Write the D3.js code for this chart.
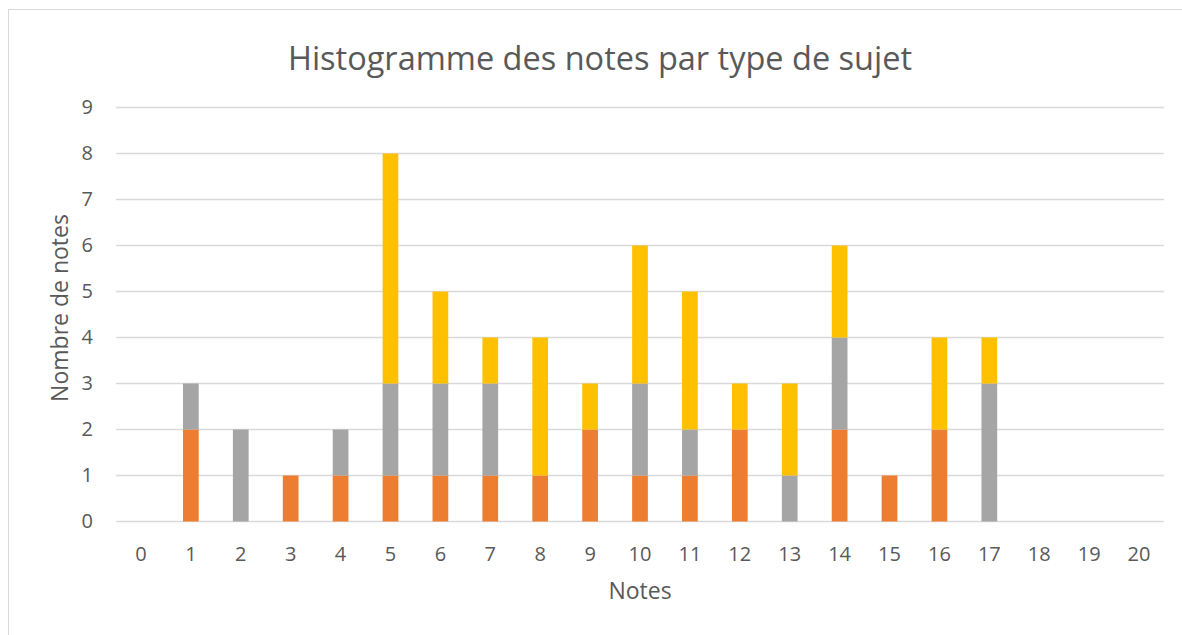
<!DOCTYPE html>
<html>
<head>
<meta charset="utf-8">
<script src="https://cdn.jsdelivr.net/npm/d3@7"></script>
<style>
  body { margin: 0; background: #fff; }
  text { font-family: "Open Sans", "Liberation Sans", sans-serif; fill: #595959; }
</style>
</head>
<body>
<svg id="chart" width="1182" height="635"></svg>
<script>
// notes 0..20
const notes = d3.range(0, 21).map(String);
// nombre de notes par type de sujet (empilées : orange, gris, jaune)
const serieOrange = [0, 2, 0, 1, 1, 1, 1, 1, 1, 2, 1, 1, 2, 0, 2, 1, 2, 0, 0, 0, 0];
const serieGris   = [0, 1, 2, 0, 1, 2, 2, 2, 0, 0, 2, 1, 0, 1, 2, 0, 0, 3, 0, 0, 0];
const serieJaune  = [0, 0, 0, 0, 0, 5, 2, 1, 3, 1, 3, 3, 1, 2, 2, 0, 2, 1, 0, 0, 0];
const yTicks = d3.range(0, 10);

const svg = d3.select("#chart");
const width = +svg.attr("width");
const height = +svg.attr("height");

// cadre du graphique
svg.append("rect").attr("x", 8.5).attr("y", 9.5).attr("width", 1200).attr("height", 700)
  .attr("fill", "none").attr("stroke", "#d9d9d9").attr("stroke-width", 1);

const margin = {left: 116, right: 1164, top: 107.5, bottom: 521.5};

const x = d3.scaleBand().domain(notes).range([margin.left, margin.right]).paddingInner(0.685).paddingOuter(0.3425);
const y = d3.scaleLinear().domain([0, 9]).range([margin.bottom, margin.top]);

// grille
svg.append("g").selectAll("line").data(yTicks).join("line")
  .attr("x1", margin.left).attr("x2", margin.right)
  .attr("y1", d => y(d)).attr("y2", d => y(d))
  .attr("stroke", "#d9d9d9").attr("stroke-width", 1.3);

// empilement
const table = notes.map((n, i) => ({note: n, orange: serieOrange[i], gris: serieGris[i], jaune: serieJaune[i]}));
const keys = ["orange", "gris", "jaune"];
const colors = {orange: "#ED7D31", gris: "#A5A5A5", jaune: "#FFC000"};
const stacked = d3.stack().keys(keys)(table);

svg.append("g").selectAll("g").data(stacked).join("g")
  .attr("fill", s => colors[s.key])
  .selectAll("rect").data(s => s.filter(d => d[1] > d[0])).join("rect")
  .attr("x", d => x(d.data.note))
  .attr("width", x.bandwidth())
  .attr("y", d => y(d[1]))
  .attr("height", d => y(d[0]) - y(d[1]));

// axe y
const yAxis = svg.append("g").attr("transform", `translate(${margin.left},0)`)
  .call(d3.axisLeft(y).tickValues(yTicks).tickSize(0).tickPadding(23));
yAxis.select(".domain").remove();
yAxis.selectAll("text").attr("font-size", 20).attr("fill", "#595959")
  .style("font-family", '"Open Sans", "Liberation Sans", sans-serif');

// axe x
const xAxis = svg.append("g").attr("transform", `translate(0,${margin.bottom})`)
  .call(d3.axisBottom(x).tickSize(0).tickPadding(25));
xAxis.select(".domain").remove();
xAxis.selectAll("text").attr("font-size", 20).attr("fill", "#595959")
  .style("font-family", '"Open Sans", "Liberation Sans", sans-serif');

// titres
svg.append("text").attr("x", 600).attr("y", 70).attr("text-anchor", "middle")
  .attr("font-size", 32.5).text("Histogramme des notes par type de sujet");

svg.append("text").attr("x", 640).attr("y", 599).attr("text-anchor", "middle")
  .attr("font-size", 23).text("Notes");

svg.append("text").attr("transform", "translate(68,308) rotate(-90)").attr("text-anchor", "middle")
  .attr("font-size", 23).text("Nombre de notes");
</script>
</body>
</html>
